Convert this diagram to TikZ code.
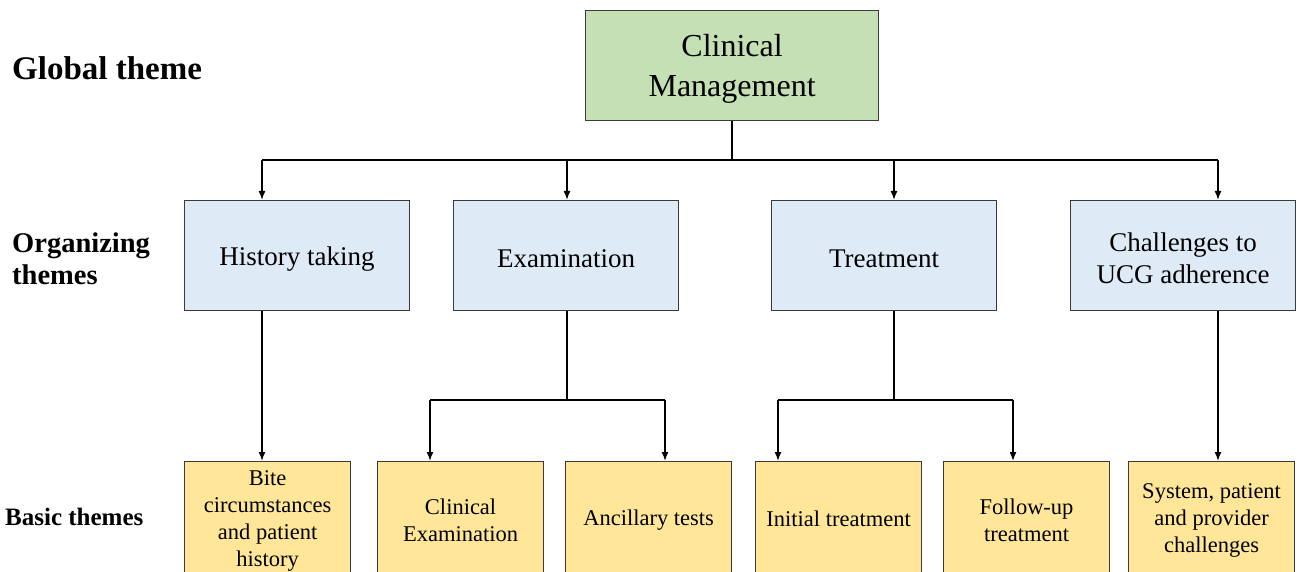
\documentclass[tikz,border=0pt]{standalone}
\usepackage{fontspec}
\setmainfont{Liberation Serif}
\usetikzlibrary{arrows.meta}
\definecolor{gbox}{HTML}{C5E0B4}
\definecolor{bbox}{HTML}{DEEBF7}
\definecolor{ybox}{HTML}{FFE699}
\definecolor{edge}{HTML}{3A3A3A}
\tikzset{
  box/.style={draw=edge, line width=1.2pt, inner sep=0pt, anchor=north west},
  topbox/.style={box, fill=gbox, minimum width=293pt, minimum height=110pt},
  orgbox/.style={box, fill=bbox, minimum width=225pt, minimum height=110pt},
  basbox/.style={box, fill=ybox, minimum width=166pt, minimum height=111pt},
  toptxt/.style={align=center, inner sep=0pt, font=\fontsize{32}{40}\selectfont},
  orgtxt/.style={align=center, inner sep=0pt, font=\fontsize{27}{32}\selectfont},
  bastxt/.style={align=center, inner sep=0pt, font=\fontsize{22.5}{27}\selectfont},
  lbl/.style={anchor=west, align=left, inner sep=0pt},
  conn/.style={line width=1.5pt, black},
  arr/.style={conn, -{Latex[length=9pt,width=7pt]}}
}
\newcommand\bx[5]{\node[#1box] (#2) at (#3) {};
  \node[#1txt] (#2t) at ([yshift=-#4pt]#2.center) {#5};}
\begin{document}
\begin{tikzpicture}[x=1pt,y=-1pt]
\useasboundingbox (0,0) rectangle (1301,572);
% row labels
\node[lbl, font=\bfseries\fontsize{33}{36}\selectfont] (lg) at (12,68) {Global theme};
\node[lbl, font=\bfseries\fontsize{28.5}{32}\selectfont] (lo) at (12,259) {Organizing\\themes};
\node[lbl, font=\bfseries\fontsize{25}{28}\selectfont] (lb) at (5,517) {Basic themes};
% global
\bx{top}{top}{585,10}{3}{Clinical\\Management}
% organizing
\bx{org}{hist}{184,200}{3.5}{History taking}
\bx{org}{exam}{453,200}{3.5}{Examination}
\bx{org}{treat}{771,200}{3.5}{Treatment}
\bx{org}{chal}{1070,200}{3}{Challenges to\\UCG adherence}
% basic
\bx{bas}{bite}{184,461}{3.5}{Bite\\circumstances\\and patient\\history}
\bx{bas}{cexam}{377,461}{3.5}{Clinical\\Examination}
\bx{bas}{anc}{565,461}{3}{Ancillary tests}
\bx{bas}{init}{755,461}{2}{Initial treatment}
\bx{bas}{foll}{943,461}{3.5}{Follow-up\\treatment}
\bx{bas}{sys}{1128,461}{3}{System, patient\\and provider\\challenges}
% bus from top
\coordinate (b1) at (262,160);
\coordinate (b2) at (567,160);
\coordinate (b3) at (894,160);
\coordinate (b4) at (1218,160);
\draw[conn] (top.south) -- (top.south |- b1);
\draw[conn] (b1) -- (b4);
\draw[arr] (b1) -- (b1 |- hist.north);
\draw[arr] (b2) -- (b2 |- exam.north);
\draw[arr] (b3) -- (b3 |- treat.north);
\draw[arr] (b4) -- (b4 |- chal.north);
% history
\draw[arr] (hist.south -| b1) -- (b1 |- bite.north);
% examination
\coordinate (e0) at (567,400);
\coordinate (e1) at (430,400);
\coordinate (e2) at (665,400);
\draw[conn] (exam.south -| e0) -- (e0);
\draw[conn] (e1) -- (e2);
\draw[arr] (e1) -- (e1 |- cexam.north);
\draw[arr] (e2) -- (e2 |- anc.north);
% treatment
\coordinate (t0) at (894,400);
\coordinate (t1) at (778,400);
\coordinate (t2) at (1013,400);
\draw[conn] (treat.south -| t0) -- (t0);
\draw[conn] (t1) -- (t2);
\draw[arr] (t1) -- (t1 |- init.north);
\draw[arr] (t2) -- (t2 |- foll.north);
% challenges
\draw[arr] (chal.south -| b4) -- (b4 |- sys.north);
\end{tikzpicture}
\end{document}
